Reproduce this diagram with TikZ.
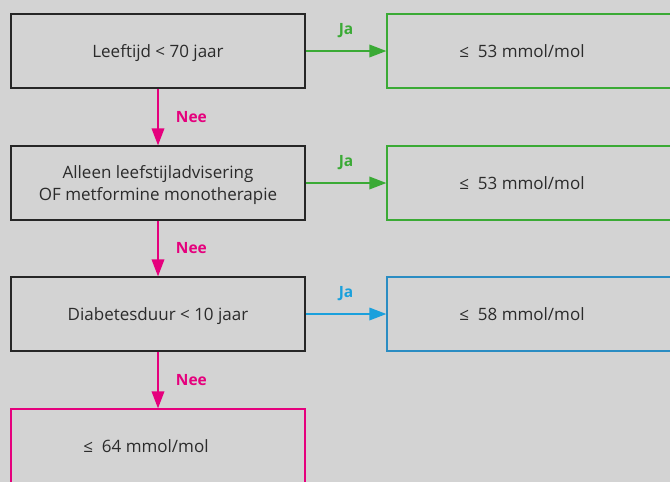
\documentclass[tikz,border=0pt]{standalone}
\usepackage{fontspec}
\setmainfont{Open Sans}
\usetikzlibrary{arrows.meta}
\usetikzlibrary{positioning}

\definecolor{achtergrond}{HTML}{D3D3D3}
\definecolor{tekst}{HTML}{2B2B2B}
\definecolor{groen}{HTML}{3AAA35}
\definecolor{roze}{HTML}{E5007D}
\definecolor{blauw}{HTML}{1AA0DC}
\definecolor{blauwrand}{HTML}{2A8CC2}

\tikzset{
  vraag/.style={draw=black!85, line width=1.2pt, minimum width=294pt, minimum height=74pt,
    inner sep=0pt, text depth=0pt, align=center, text=tekst, font=\fontsize{17}{22}\selectfont},
  pijl/.style={line width=1.8pt, -{Triangle[length=17pt,width=12.5pt]}},
  antwoord/.style={font=\bfseries\fontsize{15.5}{18}\selectfont, inner sep=0pt}
}

\begin{document}
\begin{tikzpicture}[x=1pt,y=-1pt]
  \fill[achtergrond] (0,0) rectangle (670,482);
  \clip (0,0) rectangle (670,482);

  \node[vraag] (leeftijd) at (158,51) {Leeftijd < 70 jaar};
  \node[vraag] (therapie) at (158,183) {Alleen leefstijladvisering\\OF metformine monotherapie};
  \node[vraag] (duur) at (158,314) {Diabetesduur < 10 jaar};
  \node[vraag, draw=roze] (doel64) at (158,446) {≤\ \ 64 mmol/mol\hspace{24pt}};

  \node[vraag, draw=groen] (doel53a) at (534,51) {≤\ \ 53 mmol/mol\hspace{24pt}};
  \node[vraag, draw=groen] (doel53b) at (534,183) {≤\ \ 53 mmol/mol\hspace{24pt}};
  \node[vraag, draw=blauwrand] (doel58) at (534,314) {≤\ \ 58 mmol/mol\hspace{24pt}};

  \draw[pijl, groen] (leeftijd) -- node[antwoord, above=12pt] {Ja} (doel53a);
  \draw[pijl, groen] (therapie) -- node[antwoord, above=12pt] {Ja} (doel53b);
  \draw[pijl, blauw] (duur) -- node[antwoord, above=12pt] {Ja} (doel58);

  \draw[pijl, roze] (leeftijd) -- node[antwoord, right=17pt] {Nee} (therapie);
  \draw[pijl, roze] (therapie) -- node[antwoord, right=17pt] {Nee} (duur);
  \draw[pijl, roze] (duur) -- node[antwoord, right=17pt] {Nee} (doel64);
\end{tikzpicture}
\end{document}
